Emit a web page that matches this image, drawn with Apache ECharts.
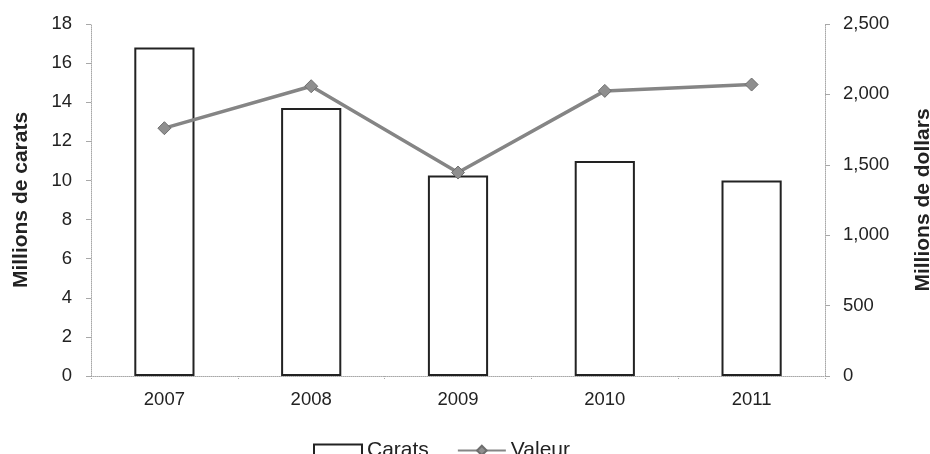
<!DOCTYPE html>
<html>
<head>
<meta charset="utf-8">
<script src="https://cdn.jsdelivr.net/npm/echarts@6/dist/echarts.min.js"></script>
<style>html,body{margin:0;padding:0;background:#fff}#c{width:930px;height:454px}</style>
</head>
<body>
<div id="c"></div>
<script>
var categories = ['2007', '2008', '2009', '2010', '2011'];
var carats = [16.8, 13.7, 10.25, 11.0, 10.0];
var valeur = [1760, 2058, 1445, 2025, 2070];
var leftTicks = [0, 2, 4, 6, 8, 10, 12, 14, 16, 18];
var rightTicks = [0, 500, 1000, 1500, 2000, 2500];

var FONT = '"Liberation Sans", Arial, sans-serif';
var chart = echarts.init(document.getElementById('c'), null, {renderer: 'canvas'});
var axisLine = {show: true, lineStyle: {color: '#a8a8a8', width: 1, type: 'dotted'}};
chart.setOption({
  animation: false,
  backgroundColor: '#fff',
  grid: {left: 91, right: 105, top: 24, bottom: 78, containLabel: false, outerBoundsMode: 'none'},
  legend: {
    left: 308, top: 435, itemWidth: 48, itemHeight: 12, itemGap: 28,
    textStyle: {fontFamily: FONT, fontSize: 21, color: '#222'},
    data: [
      {name: 'Carats', icon: 'rect', itemStyle: {color: '#fff', borderColor: '#222', borderWidth: 2}},
      {name: 'Valeur'}
    ]
  },
  xAxis: {
    type: 'category', data: categories,
    axisLine: axisLine,
    axisTick: {show: true, length: 4, lineStyle: {color: '#a8a8a8', type: 'dotted'}},
    axisLabel: {fontFamily: FONT, fontSize: 18.5, color: '#222', margin: 14},
    splitLine: {show: false}
  },
  yAxis: [
    {
      type: 'value', min: 0, max: 18, interval: 2, position: 'left',
      name: 'Millions de carats', nameLocation: 'middle', nameGap: 59,
      nameTextStyle: {fontFamily: FONT, fontSize: 21, fontWeight: 'bold', color: '#222'},
      axisLine: axisLine,
      axisTick: {show: true, length: 5, lineStyle: {color: '#a8a8a8'}},
      axisLabel: {fontFamily: FONT, fontSize: 18.5, color: '#222', margin: 19,
        customValues: leftTicks},
      splitLine: {show: false}
    },
    {
      type: 'value', min: 0, max: 2500, interval: 500, position: 'right',
      name: 'Millions de dollars', nameLocation: 'middle', nameGap: 88,
      nameTextStyle: {fontFamily: FONT, fontSize: 21, fontWeight: 'bold', color: '#222'},
      axisLine: axisLine,
      axisTick: {show: true, length: 5, lineStyle: {color: '#a8a8a8'}},
      axisLabel: {fontFamily: FONT, fontSize: 18.5, color: '#222', margin: 18,
        customValues: rightTicks,
        formatter: function (v) { return v.toLocaleString('en-US'); }},
      splitLine: {show: false}
    }
  ],
  series: [
    {
      name: 'Carats', type: 'bar', data: carats, yAxisIndex: 0,
      barCategoryGap: '59%',
      itemStyle: {color: '#fff', borderColor: '#222', borderWidth: 2}
    },
    {
      name: 'Valeur', type: 'line', data: valeur, yAxisIndex: 1,
      symbol: 'diamond', symbolSize: 13,
      lineStyle: {color: '#858585', width: 3.5},
      itemStyle: {color: '#8f8f8f', borderColor: '#6e6e6e', borderWidth: 1}
    }
  ]
});
</script>
</body>
</html>
